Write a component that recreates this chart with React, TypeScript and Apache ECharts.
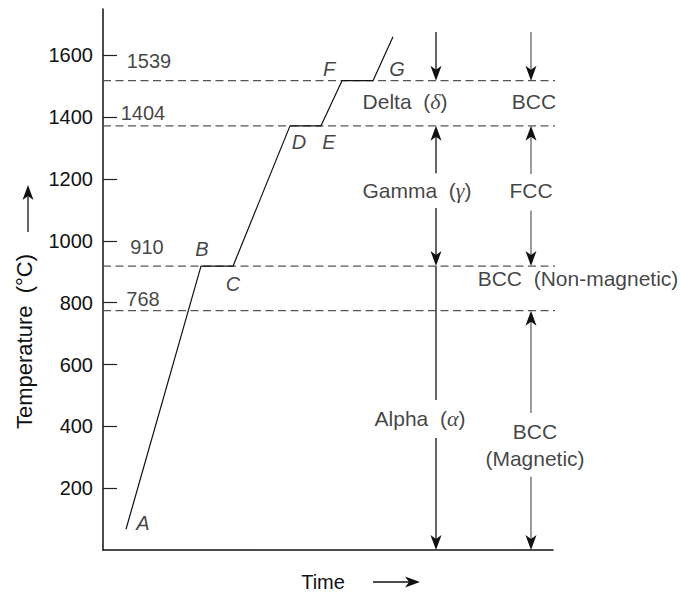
import React, { useEffect, useRef } from 'react';
import * as echarts from 'echarts';

// y-axis tick labels
const yTicks = [200, 400, 600, 800, 1000, 1200, 1400, 1600];
// heating curve A..G (time in arbitrary units, temperature as drawn)
const curveTime = [23, 98, 130, 187, 218, 239, 270, 290];
const curveTemp = [67, 918, 918, 1372, 1372, 1518, 1518, 1660];
// transformation levels (drawn positions) and their labels
const levelTemps = [1518, 1372, 918, 774];
const levelLabels = ['1539', '1404', '910', '768'];
const levelLabelX = [46, 40, 44, 40];
const levelLabelY = [1582, 1415, 981, 812];
// point letters
const pointLetters = ['A', 'B', 'C', 'D', 'E', 'F', 'G'];
const letterX = [40, 99, 130, 196, 226, 226, 294];
const letterY = [86, 974, 860, 1321, 1321, 1556, 1556];
// phase texts
const phaseTexts = ['Delta  ({g|δ})', 'BCC', 'Gamma  ({g|γ})', 'FCC', 'BCC  (Non-magnetic)', 'Alpha  ({g|α})', 'BCC', '(Magnetic)'];
const phaseX = [302, 431, 314, 428, 475, 317, 432, 432];
const phaseY = [1450, 1450, 1162, 1162, 877, 426, 383, 297];
// range arrows
const arrowX = [333, 333, 333, 333, 333, 428, 428, 428, 428, 428];
const arrowFrom = [1676, 1219, 1106, 919, 362, 1676, 1216, 1098, 443, 237];
const arrowTo = [1518, 1372, 919, 485, 0, 1518, 1372, 919, 774, 0];
const arrowHead = [1, 1, 1, 0, 1, 1, 1, 1, 1, 1];
const arrowTone = [0, 0, 0, 0, 0, 1, 1, 1, 1, 1];

const FONT = '"Liberation Sans", Arial, Helvetica, sans-serif';
const TXT = '#111';

function headPoints(tx: number, ty: number, dx: number, dy: number, L = 15, W = 5.5, N = 11) {
  const px = -dy, py = dx;
  return [
    [tx, ty],
    [tx - dx * L + px * W, ty - dy * L + py * W],
    [tx - dx * N, ty - dy * N],
    [tx - dx * L - px * W, ty - dy * L - py * W],
  ];
}

export default function App() {
  const ref = useRef<HTMLDivElement>(null);
  useEffect(() => {
    if (!ref.current) return;
    const chart = echarts.init(ref.current, null, { renderer: 'svg' });
    const series: any[] = [];
    levelTemps.forEach((t) => {
      series.push({
        type: 'line',
        data: [[0, t], [454, t]],
        symbol: 'none',
        clip: false,
        silent: true,
        lineStyle: { color: '#555', width: 1.3, type: [8, 4.5] },
      });
    });
    series.push({
      type: 'line',
      data: curveTime.map((x, i) => [x, curveTemp[i]]),
      symbol: 'none',
      silent: true,
      lineStyle: { color: '#111', width: 1.2 },
    });
    series.push({
      type: 'custom',
      silent: true,
      clip: false,
      data: arrowX.map((x, i) => [x, arrowFrom[i], arrowTo[i], arrowHead[i], arrowTone[i]]),
      renderItem: (params: any, api: any) => {
        const x = api.value(0);
        const p1 = api.coord([x, api.value(1)]);
        const p2 = api.coord([x, api.value(2)]);
        const head = api.value(3);
        const tone = api.value(4);
        const dir = p2[1] > p1[1] ? 1 : -1;
        const lineColor = tone ? '#666' : '#111';
        const children: any[] = [
          {
            type: 'line',
            shape: { x1: p1[0], y1: p1[1], x2: p2[0], y2: head ? p2[1] - dir * 10 : p2[1] },
            style: { stroke: lineColor, lineWidth: 1.3 },
          },
        ];
        if (head) {
          children.push({
            type: 'polygon',
            shape: { points: headPoints(p2[0], p2[1], 0, dir) },
            style: { fill: '#111' },
          });
        }
        return { type: 'group', children };
      },
    });
    const textSeries = (data: any[], size: number, extra: any = {}) => ({
      type: 'scatter',
      silent: true,
      clip: false,
      symbolSize: 1,
      itemStyle: { color: 'transparent' },
      label: {
        show: true,
        position: 'inside',
        align: 'center',
        verticalAlign: 'middle',
        fontFamily: FONT,
        fontSize: size,
        color: TXT,
        ...extra,
        rich: {
          g: { fontFamily: '"Liberation Serif", "DejaVu Serif", serif', fontStyle: 'italic', fontSize: size + 1, color: TXT },
        },
      },
      data,
    });
    series.push(
      textSeries(levelLabels.map((s, i) => ({ value: [levelLabelX[i], levelLabelY[i]], label: { formatter: s } })), 20)
    );
    series.push(
      textSeries(
        pointLetters.map((s, i) => ({ value: [letterX[i], letterY[i]], label: { formatter: s } })),
        20,
        { fontStyle: 'italic' }
      )
    );
    series.push(
      textSeries(phaseTexts.map((s, i) => ({ value: [phaseX[i], phaseY[i]], label: { formatter: s } })), 21)
    );

    chart.setOption({
      animation: false,
      grid: { left: 103, right: 127, top: 9, bottom: 43, containLabel: false, outerBoundsMode: 'none' },
      xAxis: {
        type: 'value',
        min: 0,
        max: 450,
        axisLine: { show: true, lineStyle: { color: '#111', width: 1.5 } },
        axisTick: { show: false },
        axisLabel: { show: false },
        splitLine: { show: false },
      },
      yAxis: {
        type: 'value',
        min: 0,
        max: 1750,
        axisLine: { show: true, lineStyle: { color: '#111', width: 1.5 } },
        axisTick: { show: true, inside: true, length: 14, customValues: yTicks, lineStyle: { color: '#222', width: 1.2 } },
        axisLabel: {
          show: true,
          customValues: yTicks,
          margin: 10,
          fontFamily: FONT,
          fontSize: 20,
          color: TXT,
          formatter: (v: number) => String(v),
        },
        splitLine: { show: false },
      },
      graphic: [
        {
          type: 'text',
          x: 24,
          y: 341.5,
          rotation: Math.PI / 2,
          style: {
            text: 'Temperature  (°C)',
            fontFamily: FONT,
            fontSize: 22,
            fill: TXT,
            align: 'center',
            verticalAlign: 'middle',
            textAlign: 'center',
            textVerticalAlign: 'middle',
          },
        },
        { type: 'line', shape: { x1: 28, y1: 232, x2: 28, y2: 195 }, style: { stroke: '#111', lineWidth: 1.3 } },
        { type: 'polygon', shape: { points: headPoints(28, 185, 0, -1) }, style: { fill: '#111' } },
        {
          type: 'text',
          x: 323,
          y: 582,
          style: {
            text: 'Time',
            fontFamily: FONT,
            fontSize: 20,
            fill: TXT,
            align: 'center',
            verticalAlign: 'middle',
            textAlign: 'center',
            textVerticalAlign: 'middle',
          },
        },
        { type: 'line', shape: { x1: 373, y1: 582, x2: 410, y2: 582 }, style: { stroke: '#111', lineWidth: 1.3 } },
        { type: 'polygon', shape: { points: headPoints(420, 582, 1, 0) }, style: { fill: '#111' } },
      ],
      series,
    });
    return () => chart.dispose();
  }, []);
  return <div ref={ref} style={{ position: 'absolute', left: 0, top: 0, width: 680, height: 593, background: '#fff' }} />;
}
